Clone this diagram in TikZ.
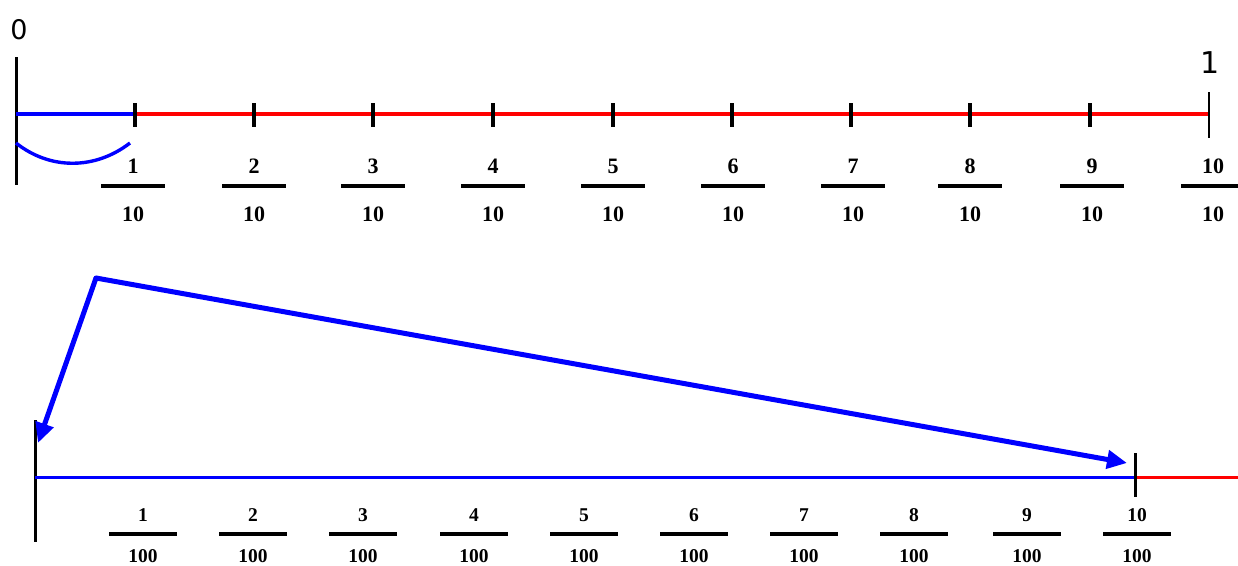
\documentclass[tikz,border=0pt]{standalone}
\usepackage{fontspec}
\usetikzlibrary{arrows.meta}
\newfontfamily\labelsans{DejaVu Sans}
\newfontfamily\numserif{Liberation Serif}
\definecolor{lineblue}{RGB}{0,0,255}
\definecolor{linered}{RGB}{255,0,0}
\begin{document}
\begin{tikzpicture}[x=1pt,y=-1pt,
  axisline/.style={line width=3.6pt},
  tickmark/.style={black,line width=3.4pt},
  fracbar/.style={black,line width=3.6pt},
  topnum/.style={inner sep=0pt,font=\numserif\bfseries\fontsize{22}{22}\selectfont},
  botnum/.style={inner sep=0pt,font=\numserif\bfseries\fontsize{19.5}{19.5}\selectfont},
  endlabel/.style={inner sep=0pt,font=\labelsans\fontsize{27}{27}\selectfont},
  bigarrow/.style={lineblue,line width=5pt,-{Triangle[length=20pt,width=18pt]}}]
\useasboundingbox (0,0) rectangle (1238,565);
% ---------- top number line ----------
\coordinate (t0) at (16,114);
\coordinate (t1) at (135,114);
\coordinate (t10) at (1209,114);
\draw[black,line width=3pt] (16,57) -- (16,185);
\draw[axisline,lineblue] (t0) -- (t1);
\draw[axisline,linered] (t1) -- (t10);
\foreach \x in {135,254,373,493,613,732,851,970,1090}
  \draw[tickmark] (\x,103) -- (\x,127);
\draw[tickmark,line width=2.8pt] (1209,92) -- (1209,138);
\node[endlabel] (zero) at (19,30) {0};
\node[endlabel,font=\labelsans\fontsize{30}{30}\selectfont] (one) at (1210,63) {1};
\draw[lineblue,line width=3.4pt] (16,143) .. controls (50,170) and (95,170) .. (130,143);
\foreach \n/\x in {1/133,2/254,3/373,4/493,5/613,6/733,7/853,8/970,9/1092,10/1213}{
  \node[topnum] (tn\n) at (\x,166) {\n};
  \draw[fracbar] (\x-32,186) -- (\x+32,186);
  \node[topnum] (td\n) at (\x,214) {10};
}
% ---------- bottom number line ----------
\coordinate (b0) at (35,477);
\coordinate (b10) at (1135,477);
\coordinate (bend) at (1238,477);
\draw[black,line width=3pt] (35,420) -- (35,542);
\draw[lineblue,line width=3pt] (b0) -- (b10);
\draw[linered,line width=3pt] (b10) -- (bend);
\draw[tickmark,line width=3pt] (1135,453) -- (1135,497);
\foreach \n/\x in {1/143,2/253,3/363,4/474,5/584,6/694,7/804,8/914,9/1027,10/1137}{
  \node[botnum] (bn\n) at (\x,515) {\n};
  \draw[fracbar] (\x-34,534) -- (\x+34,534);
  \node[botnum] (bd\n) at (\x,556) {100};
}
% ---------- arrows ----------
\coordinate (apex) at (96,278);
\coordinate (lefttip) at (38,443);
\coordinate (righttip) at (1127,463);
\draw[bigarrow] (apex) -- (lefttip);
\draw[bigarrow] (apex) -- (righttip);
\fill[lineblue] (apex) circle (2.5pt);
\end{tikzpicture}
\end{document}
